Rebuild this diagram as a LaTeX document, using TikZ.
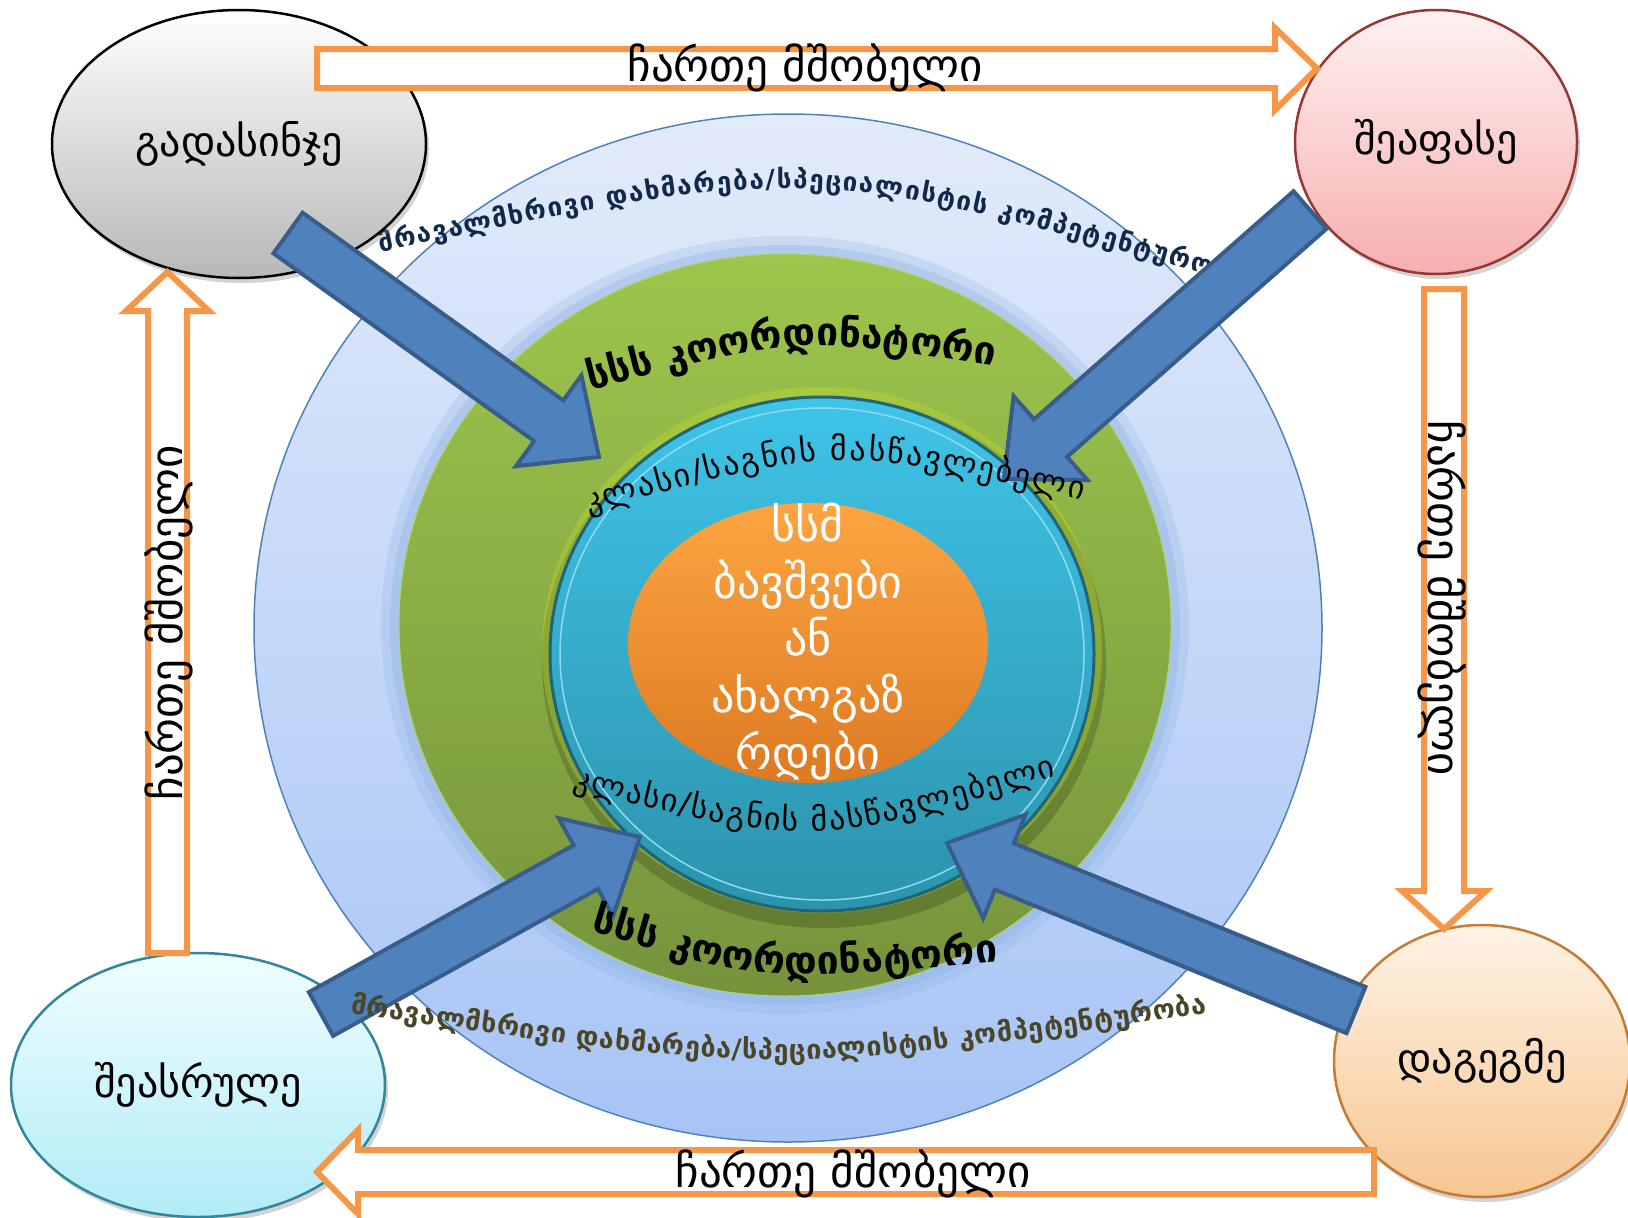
\documentclass[tikz,border=0pt]{standalone}
\usepackage{fontspec}
\newfontfamily\geo{DejaVu Sans}
\usepackage{tikz}
\usetikzlibrary{shapes.geometric, calc, decorations.text, shadows}
\definecolor{arrorange}{HTML}{F79646}
\definecolor{arrblue}{HTML}{4F81BD}
\definecolor{arrblueline}{HTML}{385D8A}
\definecolor{skytop}{HTML}{E2EBFA}
\definecolor{skybot}{HTML}{A7C4F6}
\definecolor{skyline}{HTML}{4F81BD}
\definecolor{glowblue}{HTML}{8DB3E2}
\definecolor{greentop}{HTML}{9DC64C}
\definecolor{greenbot}{HTML}{76933C}
\definecolor{cyantop}{HTML}{3FC4E8}
\definecolor{cyanbot}{HTML}{2C93AC}
\definecolor{cyanrim}{HTML}{1F6577}
\definecolor{kidtop}{HTML}{FCA542}
\definecolor{kidbot}{HTML}{DD7A22}
\definecolor{navytext}{HTML}{10284A}
\definecolor{olivetext}{HTML}{4A4526}
\definecolor{pinktop}{HTML}{FFF1F1}
\definecolor{pinkbot}{HTML}{F6AFAF}
\definecolor{pinkline}{HTML}{953735}
\definecolor{icetop}{HTML}{F0FEFF}
\definecolor{icebot}{HTML}{B2ECF6}
\definecolor{iceline}{HTML}{31859C}
\definecolor{peachtop}{HTML}{FFF3E6}
\definecolor{peachbot}{HTML}{F7C690}
\definecolor{peachline}{HTML}{C77A31}
\tikzstyle{ring} = [ellipse, inner sep=0pt]
\tikzstyle{stage} = [ellipse, inner sep=0pt, line width=2.5pt, font=\geo\fontsize{42}{48}\selectfont, drop shadow={shadow xshift=3pt, shadow yshift=-5pt, opacity=.35}]
\tikzstyle{hollow} = [draw=arrorange, line width=6pt, fill=white, line join=miter]
\tikzstyle{bluearr} = [draw=arrblueline, line width=4pt, fill=arrblue, line join=miter]
\tikzstyle{arrtext} = [inner sep=0pt, font=\geo\fontsize{45}{50}\selectfont]
\newcommand{\blockarrow}[3]{%
  \coordinate (#1-b) at ($(#3)!62pt!(#2)$);
  \filldraw[bluearr] ($(#2)!25pt!90:(#3)$) -- ($(#1-b)!25pt!90:(#3)$) -- ($(#1-b)!56pt!90:(#3)$) -- (#3)
    -- ($(#1-b)!56pt!-90:(#3)$) -- ($(#1-b)!25pt!-90:(#3)$) -- ($(#2)!25pt!-90:(#3)$) -- cycle;
}

\begin{document}
\begin{tikzpicture}[x=1pt, y=-1pt]
    \useasboundingbox (0,0) rectangle (1628,1218);

    \node[ring, minimum width=1068pt, minimum height=1028pt, top color=skytop, bottom color=skybot, draw=skyline, line width=1.5pt] (support) at (788,628) {};
    \fill[glowblue, opacity=.25] (785,625) ellipse [x radius=404pt, y radius=389pt];
    \fill[glowblue, opacity=.35] (785,625) ellipse [x radius=395pt, y radius=380pt];
    \node[ring, minimum width=772pt, minimum height=742pt, top color=greentop, bottom color=greenbot, draw=greentop!80!white, line width=1pt] (coord) at (785,625) {};
    \fill[black, opacity=.18] (824,662) ellipse [x radius=282pt, y radius=266pt];
    \fill[greentop!60!yellow, opacity=.35] (822,650) ellipse [x radius=280pt, y radius=263pt];
    \node[ring, minimum width=544pt, minimum height=514pt, top color=cyantop, bottom color=cyanbot, draw=cyanrim, line width=3pt] (teacher) at (822,654) {};
    \draw[cyantop!60!white, line width=1.5pt] (822,654) ellipse [x radius=262pt, y radius=246pt];
    \node[ring, minimum width=360pt, minimum height=280pt, top color=kidtop, bottom color=kidbot] (core) at (808,643) {};

    \path[decorate, decoration={text along path, text align=fit to path, text color=navytext,
        text={|\geo\bfseries\fontsize{26}{30}\selectfont|მრავალმხრივი დახმარება/სპეციალისტის კომპეტენტურობა}}]
        (380,252) .. controls (812,162) .. (1240,284);
    \path[decorate, decoration={text along path, text align=fit to path,
        text={|\geo\bfseries\fontsize{39}{44}\selectfont|სსს კოორდინატორი}}]
        (590,390) .. controls (800,336) .. (994,366);
    \path[decorate, decoration={text along path, text align=fit to path,
        text={|\geo\fontsize{32}{36}\selectfont|კლასი/საგნის მასწავლებელი}}]
        (572,788) .. controls (812,848) .. (1056,776);

    \node[align=center, text=white, font=\geo\fontsize{46}{57}\selectfont] (kids) at (808,642) {სსმ\\ბავშვები\\ან\\ახალგაზ\\რდები};

    \node[stage, minimum width=374pt, minimum height=268pt, top color=white, bottom color=black!28, draw=black] (review) at (239,144) {გადასინჯე};
    \node[stage, minimum width=282pt, minimum height=264pt, top color=pinktop, bottom color=pinkbot, draw=pinkline] (assess) at (1436,142) {შეაფასე};
    \node[stage, minimum width=374pt, minimum height=264pt, top color=icetop, bottom color=icebot, draw=iceline] (perform) at (198,1085) {შეასრულე};
    \node[stage, minimum width=296pt, minimum height=272pt, top color=peachtop, bottom color=peachbot, draw=peachline] (plan) at (1482,1061) {დაგეგმე};

    \draw[hollow] (317,49) -- (1275,49) -- (1275,28) -- (1317,68.5) -- (1275,110) -- (1275,88) -- (317,88) -- cycle;
    \draw[hollow] (1424,289) -- (1424,891) -- (1402,891) -- (1444,929) -- (1486,891) -- (1464,891) -- (1464,289) -- cycle;
    \draw[hollow] (1374,1150) -- (358,1150) -- (358,1130) -- (317,1172) -- (358,1214) -- (358,1194) -- (1374,1194) -- cycle;
    \draw[hollow] (148,953) -- (148,311) -- (126,311) -- (167.5,272) -- (209,311) -- (187,311) -- (187,953) -- cycle;
    \node[arrtext] (parentTop) at (805,68) {ჩართე მშობელი};
    \node[arrtext, rotate=-90] (parentRight) at (1442,598) {ჩართე მშობელი};
    \node[arrtext] (parentBottom) at (853,1174) {ჩართე მშობელი};
    \node[arrtext, rotate=90] (parentLeft) at (169,623) {ჩართე მშობელი};

    \coordinate (tlTail) at (288,233);
    \coordinate (tlTip) at (599,457);
    \coordinate (trTail) at (1310,210);
    \coordinate (trTip) at (1004,479);
    \coordinate (blTail) at (321,1014);
    \coordinate (blTip) at (640,837);
    \coordinate (brTail) at (1356,1010);
    \coordinate (brTip) at (947,843);
    \blockarrow{tl}{tlTail}{tlTip}
    \blockarrow{tr}{trTail}{trTip}
    \blockarrow{bl}{blTail}{blTip}
    \blockarrow{br}{brTail}{brTip}

    \path[decorate, decoration={text along path, text align=fit to path,
        text={|\geo\fontsize{32}{36}\selectfont|კლასი/საგნის მასწავლებელი}}]
        (588,512) .. controls (835,445) .. (1082,500);
    \path[decorate, decoration={text along path, text align=fit to path,
        text={|\geo\bfseries\fontsize{39}{44}\selectfont|სსს კოორდინატორი}}]
        (590,930) .. controls (760,982) .. (998,962);
    \path[decorate, decoration={text along path, text align=fit to path, text color=olivetext,
        text={|\geo\bfseries\fontsize{27}{31}\selectfont|მრავალმხრივი დახმარება/სპეციალისტის კომპეტენტურობა}}]
        (350,1013) .. controls (777,1075) .. (1206,1013);
\end{tikzpicture}
\end{document}
